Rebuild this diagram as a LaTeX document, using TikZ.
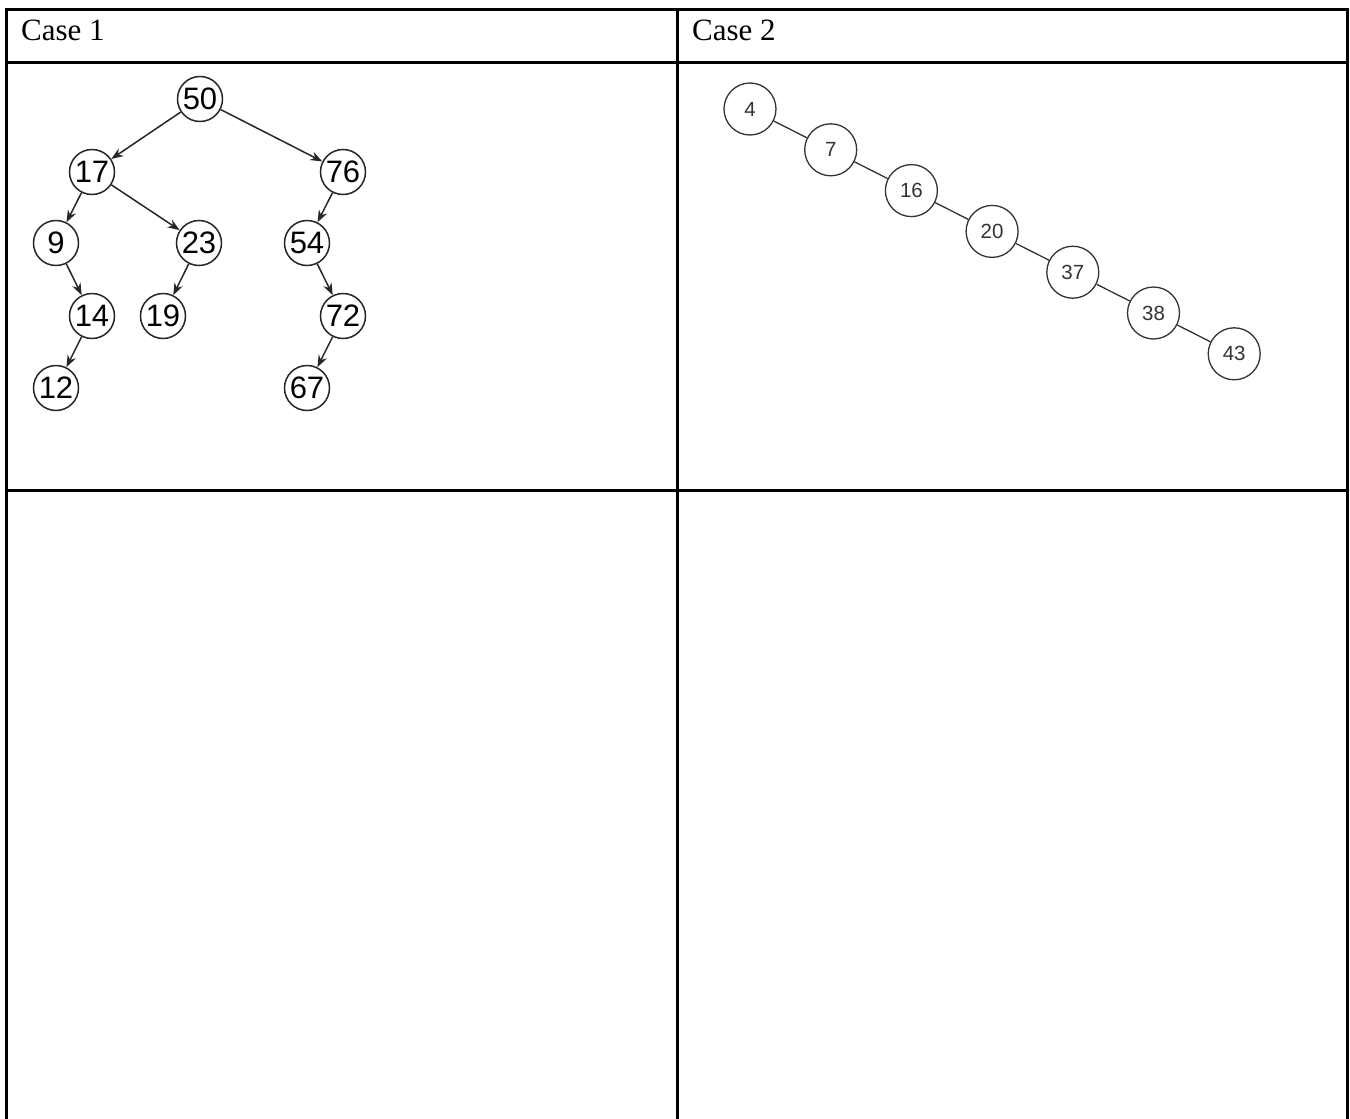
\documentclass[tikz,border=0pt]{standalone}
\usepackage{fontspec}
\setmainfont{Liberation Serif}
\newfontfamily\arialfont{Liberation Sans}
\usetikzlibrary{arrows.meta}

\begin{document}
\begin{tikzpicture}[x=1pt,y=-1pt,
  tableline/.style={line width=3pt, black},
  treenode/.style={circle, draw=black!85, line width=1.5pt, minimum size=45pt, inner sep=0pt,
    font=\arialfont\fontsize{31}{31}\selectfont},
  chainnode/.style={circle, draw=black!80, line width=1.3pt, minimum size=52pt, inner sep=0pt,
    text=black!80, font=\arialfont\fontsize{20.5}{20.5}\selectfont},
  treeedge/.style={-{Stealth[length=12pt,width=9pt]}, line width=1.5pt, black!85},
  chainedge/.style={line width=1.3pt, black!80}]
  \useasboundingbox (0,0) rectangle (1350,1119);
  % ---- table ----
  \draw[tableline] (6,1119) -- (6,9) -- (1347,9) -- (1347,1119);
  \draw[tableline] (6,62) -- (1347,62);
  \draw[tableline] (6,490.5) -- (1347,490.5);
  \draw[tableline] (677,9) -- (677,1119);
  \node[anchor=base west, font=\fontsize{31}{36}\selectfont, inner sep=0pt] (case1) at (21,40) {Case 1};
  \node[anchor=base west, font=\fontsize{31}{36}\selectfont, inner sep=0pt] (case2) at (692,40) {Case 2};
  % ---- Left: tree ----
  \node[treenode] (n50) at (200,99) {50};
  \node[treenode] (n17) at (92,172) {17};
  \node[treenode] (n76) at (343,172) {76};
  \node[treenode] (n9) at (56,243) {9};
  \node[treenode] (n23) at (199,243) {23};
  \node[treenode] (n54) at (307,243) {54};
  \node[treenode] (n14) at (92,316) {14};
  \node[treenode] (n19) at (163,316) {19};
  \node[treenode] (n72) at (343,316) {72};
  \node[treenode] (n12) at (56,388) {12};
  \node[treenode] (n67) at (307,388) {67};
  \draw[treeedge] (n50) -- (n17);
  \draw[treeedge] (n50) -- (n76);
  \draw[treeedge] (n17) -- (n9);
  \draw[treeedge] (n17) -- (n23);
  \draw[treeedge] (n76) -- (n54);
  \draw[treeedge] (n9) -- (n14);
  \draw[treeedge] (n23) -- (n19);
  \draw[treeedge] (n54) -- (n72);
  \draw[treeedge] (n14) -- (n12);
  \draw[treeedge] (n72) -- (n67);
  % ---- Right: chain ----
  \foreach \v [count=\i from 0] in {4,7,16,20,37,38,43}
    \node[chainnode] (c\i) at ({750+80.7*\i},{109+40.8*\i}) {\v};
  \foreach \j [count=\i from 0] in {1,...,6}
    \draw[chainedge] (c\i) -- (c\j);
\end{tikzpicture}
\end{document}
